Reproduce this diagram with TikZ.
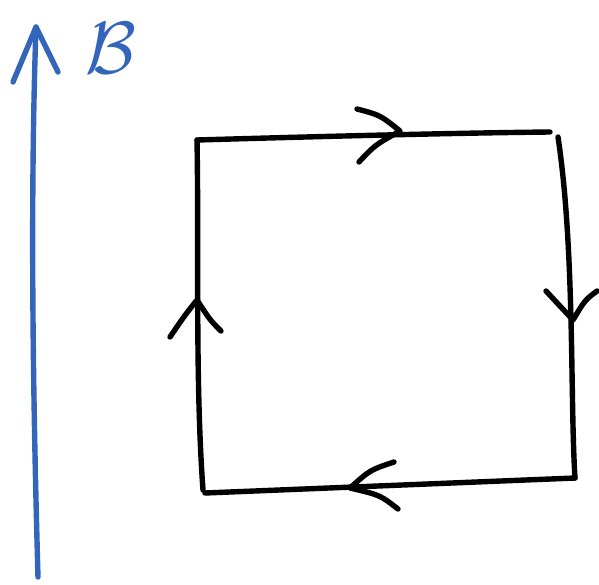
\documentclass[tikz,border=0pt]{standalone}
\usetikzlibrary{calc}
\definecolor{fieldblue}{HTML}{3366BB}
\begin{document}
\begin{tikzpicture}[x=1pt,y=-1pt,
  ink/.style={line width=5.4pt,line cap=round,line join=round,black},
  bink/.style={line width=5.4pt,line cap=round,line join=round,fieldblue}]
\useasboundingbox (0,0) rectangle (599,584);
% field B
\coordinate (btail) at (38,577);
\coordinate (btip) at (36,27);
\draw[bink] (btail) .. controls (33,400) and (30,200) .. (btip);
\draw[bink] (13,82) -- (btip) -- (58,72);
\node[text=fieldblue,inner sep=0pt,anchor=center] (blabel) at (111,48) {\scalebox{7.4}{$\mathcal{B}$}};
% loop corners
\coordinate (tl) at (197,140);
\coordinate (tr) at (550,132);
\coordinate (rt) at (558,137);
\coordinate (br) at (575,478);
\coordinate (bl) at (205,493);
\coordinate (lb) at (203,490);
% sides
\draw[ink] (tl) .. controls (300,137) and (450,133) .. (tr);
\draw[ink] (rt) .. controls (575,250) and (570,400) .. (br);
\draw[ink] (br) -- (bl);
\draw[ink] (lb) .. controls (195,380) and (199,250) .. (tl);
% direction chevrons
\coordinate (ta) at (400,131);
\draw[ink] (357,109) .. controls (380,115) .. (ta) .. controls (375,145) .. (359,162);
\coordinate (ra) at (573,320);
\draw[ink] (546,291) .. controls (560,305) .. (ra) .. controls (585,300) .. (597,291);
\coordinate (ba) at (350,488);
\draw[ink] (394,462) .. controls (370,470) .. (ba) .. controls (380,495) .. (398,509);
\coordinate (la) at (197,300);
\draw[ink] (170,337) .. controls (185,315) .. (la) .. controls (210,320) .. (221,331);
\end{tikzpicture}
\end{document}
